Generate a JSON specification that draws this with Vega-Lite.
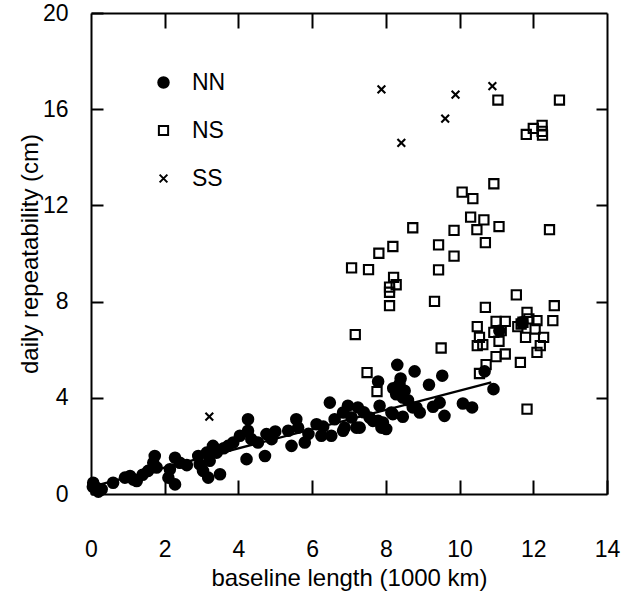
{
  "$schema": "https://vega.github.io/schema/vega-lite/v6.json",
  "width": 516,
  "height": 481,
  "autosize": {"type": "none"},
  "padding": {"left": 91, "top": 13, "right": 29, "bottom": 102},
  "background": "white",
  "config": {
    "view": {"stroke": null},
    "font": "Liberation Sans",
    "axis": {
      "grid": false,
      "domainColor": "black",
      "domainWidth": 2,
      "tickColor": "black",
      "tickWidth": 2,
      "tickOpacity": 1,
      "labelFont": "Liberation Sans",
      "labelFontSize": 23,
      "labelColor": "black",
      "titleFont": "Liberation Sans",
      "titleFontSize": 24,
      "titleFontWeight": "normal",
      "titleColor": "black"
    },
    "legend": {
      "labelFont": "Liberation Sans",
      "labelFontSize": 23,
      "labelColor": "black"
    }
  },
  "datasets": {
    "pts": [
      {"x": 0.05, "y": 0.3, "type": "NN"}, {"x": 0.15, "y": 0.26, "type": "NN"}, {"x": 0.29, "y": 0.2, "type": "NN"}, {"x": 0.06, "y": 0.47, "type": "NN"}, {"x": 0.2, "y": 0.1, "type": "NN"},
      {"x": 0.6, "y": 0.47, "type": "NN"}, {"x": 0.92, "y": 0.68, "type": "NN"}, {"x": 1.06, "y": 0.75, "type": "NN"}, {"x": 1.24, "y": 0.54, "type": "NN"}, {"x": 1.15, "y": 0.6, "type": "NN"},
      {"x": 1.4, "y": 0.8, "type": "NN"}, {"x": 1.55, "y": 0.96, "type": "NN"}, {"x": 1.73, "y": 1.58, "type": "NN"}, {"x": 1.69, "y": 1.3, "type": "NN"}, {"x": 1.78, "y": 1.1, "type": "NN"},
      {"x": 2.1, "y": 0.68, "type": "NN"}, {"x": 2.28, "y": 0.4, "type": "NN"}, {"x": 2.14, "y": 1.03, "type": "NN"}, {"x": 2.28, "y": 1.51, "type": "NN"}, {"x": 2.41, "y": 1.3, "type": "NN"},
      {"x": 2.6, "y": 1.2, "type": "NN"}, {"x": 2.91, "y": 1.58, "type": "NN"}, {"x": 2.95, "y": 1.24, "type": "NN"}, {"x": 3.04, "y": 0.96, "type": "NN"}, {"x": 3.18, "y": 0.68, "type": "NN"},
      {"x": 3.5, "y": 0.82, "type": "NN"}, {"x": 3.31, "y": 2.0, "type": "NN"}, {"x": 3.41, "y": 1.72, "type": "NN"}, {"x": 3.22, "y": 1.38, "type": "NN"}, {"x": 3.14, "y": 1.72, "type": "NN"},
      {"x": 3.6, "y": 1.9, "type": "NN"}, {"x": 3.72, "y": 2.0, "type": "NN"}, {"x": 3.86, "y": 2.14, "type": "NN"}, {"x": 4.04, "y": 2.42, "type": "NN"}, {"x": 4.26, "y": 3.11, "type": "NN"},
      {"x": 4.26, "y": 2.63, "type": "NN"}, {"x": 4.35, "y": 2.28, "type": "NN"}, {"x": 4.22, "y": 1.45, "type": "NN"}, {"x": 4.72, "y": 1.58, "type": "NN"}, {"x": 4.76, "y": 2.49, "type": "NN"},
      {"x": 4.9, "y": 2.28, "type": "NN"}, {"x": 4.53, "y": 2.14, "type": "NN"}, {"x": 5.0, "y": 2.6, "type": "NN"}, {"x": 5.35, "y": 2.63, "type": "NN"}, {"x": 5.44, "y": 2.0, "type": "NN"},
      {"x": 5.57, "y": 3.11, "type": "NN"}, {"x": 5.62, "y": 2.76, "type": "NN"}, {"x": 5.8, "y": 2.14, "type": "NN"}, {"x": 5.9, "y": 2.5, "type": "NN"}, {"x": 6.12, "y": 2.9, "type": "NN"},
      {"x": 6.25, "y": 2.42, "type": "NN"}, {"x": 6.3, "y": 2.8, "type": "NN"}, {"x": 6.52, "y": 2.42, "type": "NN"}, {"x": 6.48, "y": 3.8, "type": "NN"}, {"x": 6.61, "y": 3.11, "type": "NN"},
      {"x": 6.84, "y": 3.39, "type": "NN"}, {"x": 6.88, "y": 2.76, "type": "NN"}, {"x": 6.97, "y": 3.67, "type": "NN"}, {"x": 7.07, "y": 3.18, "type": "NN"}, {"x": 7.24, "y": 3.6, "type": "NN"},
      {"x": 7.29, "y": 2.76, "type": "NN"}, {"x": 7.4, "y": 3.4, "type": "NN"}, {"x": 7.56, "y": 3.18, "type": "NN"}, {"x": 7.79, "y": 3.04, "type": "NN"}, {"x": 7.83, "y": 3.67, "type": "NN"},
      {"x": 6.84, "y": 2.63, "type": "NN"}, {"x": 7.2, "y": 2.76, "type": "NN"}, {"x": 7.65, "y": 3.04, "type": "NN"}, {"x": 8.01, "y": 2.7, "type": "NN"}, {"x": 7.88, "y": 2.76, "type": "NN"},
      {"x": 7.92, "y": 2.97, "type": "NN"}, {"x": 8.15, "y": 3.39, "type": "NN"}, {"x": 8.46, "y": 3.21, "type": "NN"}, {"x": 8.19, "y": 3.32, "type": "NN"}, {"x": 8.73, "y": 3.6, "type": "NN"},
      {"x": 8.83, "y": 3.6, "type": "NN"}, {"x": 8.92, "y": 3.39, "type": "NN"}, {"x": 8.6, "y": 3.9, "type": "NN"}, {"x": 8.46, "y": 4.01, "type": "NN"}, {"x": 8.28, "y": 4.15, "type": "NN"},
      {"x": 8.33, "y": 4.29, "type": "NN"}, {"x": 8.51, "y": 4.29, "type": "NN"}, {"x": 8.37, "y": 4.43, "type": "NN"}, {"x": 8.37, "y": 4.57, "type": "NN"}, {"x": 8.2, "y": 4.4, "type": "NN"},
      {"x": 8.4, "y": 4.8, "type": "NN"}, {"x": 7.79, "y": 4.68, "type": "NN"}, {"x": 8.31, "y": 5.37, "type": "NN"}, {"x": 8.78, "y": 5.1, "type": "NN"}, {"x": 9.53, "y": 4.92, "type": "NN"},
      {"x": 9.17, "y": 4.54, "type": "NN"}, {"x": 9.28, "y": 3.63, "type": "NN"}, {"x": 9.46, "y": 3.8, "type": "NN"}, {"x": 9.59, "y": 3.25, "type": "NN"}, {"x": 10.09, "y": 3.76, "type": "NN"},
      {"x": 10.34, "y": 3.6, "type": "NN"}, {"x": 10.92, "y": 4.36, "type": "NN"}, {"x": 10.68, "y": 5.1, "type": "NN"}, {"x": 11.08, "y": 6.79, "type": "NN"}, {"x": 11.7, "y": 7.14, "type": "NN"},
      {"x": 11.04, "y": 16.38, "type": "NS"}, {"x": 12.71, "y": 16.38, "type": "NS"}, {"x": 11.81, "y": 14.95, "type": "NS"}, {"x": 12.0, "y": 15.2, "type": "NS"}, {"x": 12.24, "y": 15.33, "type": "NS"},
      {"x": 12.24, "y": 15.08, "type": "NS"}, {"x": 12.25, "y": 14.92, "type": "NS"}, {"x": 10.93, "y": 12.9, "type": "NS"}, {"x": 10.07, "y": 12.55, "type": "NS"}, {"x": 10.36, "y": 12.28, "type": "NS"},
      {"x": 8.73, "y": 11.07, "type": "NS"}, {"x": 9.85, "y": 10.96, "type": "NS"}, {"x": 10.3, "y": 11.51, "type": "NS"}, {"x": 10.66, "y": 11.4, "type": "NS"}, {"x": 10.47, "y": 10.99, "type": "NS"},
      {"x": 11.07, "y": 11.12, "type": "NS"}, {"x": 12.44, "y": 10.99, "type": "NS"}, {"x": 10.7, "y": 10.45, "type": "NS"}, {"x": 9.43, "y": 10.36, "type": "NS"}, {"x": 8.19, "y": 10.29, "type": "NS"},
      {"x": 7.81, "y": 10.01, "type": "NS"}, {"x": 9.85, "y": 9.89, "type": "NS"}, {"x": 7.07, "y": 9.4, "type": "NS"}, {"x": 7.53, "y": 9.33, "type": "NS"}, {"x": 9.43, "y": 9.32, "type": "NS"},
      {"x": 8.21, "y": 9.01, "type": "NS"}, {"x": 8.28, "y": 8.7, "type": "NS"}, {"x": 8.1, "y": 8.6, "type": "NS"}, {"x": 8.1, "y": 8.39, "type": "NS"}, {"x": 8.1, "y": 7.83, "type": "NS"},
      {"x": 9.32, "y": 8.01, "type": "NS"}, {"x": 11.54, "y": 8.28, "type": "NS"}, {"x": 12.57, "y": 7.83, "type": "NS"}, {"x": 10.7, "y": 7.76, "type": "NS"}, {"x": 7.17, "y": 6.63, "type": "NS"},
      {"x": 9.5, "y": 6.07, "type": "NS"}, {"x": 7.49, "y": 5.05, "type": "NS"}, {"x": 7.76, "y": 4.26, "type": "NS"}, {"x": 11.83, "y": 3.53, "type": "NS"}, {"x": 11.65, "y": 5.47, "type": "NS"},
      {"x": 12.53, "y": 7.21, "type": "NS"}, {"x": 10.48, "y": 6.96, "type": "NS"}, {"x": 10.54, "y": 6.51, "type": "NS"}, {"x": 10.48, "y": 6.17, "type": "NS"}, {"x": 10.63, "y": 6.21, "type": "NS"},
      {"x": 10.99, "y": 7.18, "type": "NS"}, {"x": 11.24, "y": 7.18, "type": "NS"}, {"x": 10.93, "y": 6.72, "type": "NS"}, {"x": 11.13, "y": 6.79, "type": "NS"}, {"x": 11.07, "y": 6.35, "type": "NS"},
      {"x": 10.72, "y": 5.38, "type": "NS"}, {"x": 10.99, "y": 5.71, "type": "NS"}, {"x": 11.24, "y": 5.82, "type": "NS"}, {"x": 10.54, "y": 5.01, "type": "NS"}, {"x": 11.58, "y": 6.96, "type": "NS"},
      {"x": 11.72, "y": 7.14, "type": "NS"}, {"x": 11.83, "y": 7.55, "type": "NS"}, {"x": 11.88, "y": 7.28, "type": "NS"}, {"x": 12.1, "y": 7.21, "type": "NS"}, {"x": 11.79, "y": 6.51, "type": "NS"},
      {"x": 12.05, "y": 6.86, "type": "NS"}, {"x": 12.28, "y": 6.51, "type": "NS"}, {"x": 12.19, "y": 6.17, "type": "NS"}, {"x": 12.1, "y": 5.89, "type": "NS"}, {"x": 11.67, "y": 7.07, "type": "NS"},
      {"x": 7.88, "y": 16.82, "type": "SS"}, {"x": 8.42, "y": 14.6, "type": "SS"}, {"x": 9.61, "y": 15.61, "type": "SS"}, {"x": 9.89, "y": 16.61, "type": "SS"}, {"x": 10.89, "y": 16.96, "type": "SS"},
      {"x": 3.21, "y": 3.22, "type": "SS"}
    ],
    "fit": [
      {"x": 0.1, "y": 0.34},
      {"x": 10.86, "y": 4.64}
    ]
  },
  "layer": [
    {
      "data": {"name": "fit"},
      "mark": {"type": "line", "color": "black", "strokeWidth": 2.2},
      "encoding": {
        "x": {
          "field": "x", "type": "quantitative",
          "scale": {"domain": [0, 14], "nice": false, "zero": false},
          "axis": {"orient": "top", "labels": false, "title": null, "values": [2, 4, 6, 8, 10, 12], "tickSize": -15, "tickWidth": 2, "tickColor": "black"}
        },
        "y": {
          "field": "y", "type": "quantitative",
          "scale": {"domain": [0, 20], "nice": false, "zero": false},
          "axis": {"orient": "right", "labels": false, "title": null, "values": [4, 8, 12, 16], "tickSize": -11, "tickWidth": 2, "tickColor": "black"}
        }
      }
    },
    {
      "data": {"name": "pts"},
      "mark": {"type": "point", "strokeWidth": 2.1, "opacity": 1},
      "encoding": {
        "x": {
          "field": "x", "type": "quantitative",
          "scale": {"domain": [0, 14], "nice": false, "zero": false},
          "axis": {"orient": "bottom", "title": "baseline length (1000 km)", "values": [0, 2, 4, 6, 8, 10, 12, 14], "tickSize": -14, "tickWidth": 2, "tickColor": "black", "labelPadding": 58, "titleY": 84, "titleBaseline": "middle", "labelFlush": false}
        },
        "y": {
          "field": "y", "type": "quantitative",
          "scale": {"domain": [0, 20], "nice": false, "zero": false},
          "axis": {"orient": "left", "title": "daily repeatability (cm)", "values": [0, 4, 8, 12, 16, 20], "tickSize": -12, "tickWidth": 2, "tickColor": "black", "labelPadding": 35, "titleX": -61, "titleBaseline": "middle", "labelFlush": false}
        },
        "shape": {
          "field": "type", "type": "nominal",
          "scale": {"domain": ["NN", "NS", "SS"], "range": ["circle", "square", "M-1,-1L1,1M1,-1L-1,1"]},
          "legend": {
            "title": null, "orient": "none", "legendX": 61, "legendY": 58,
            "padding": 0, "symbolStrokeWidth": 2,
            "labelOffset": 17, "rowPadding": 24, "labelFontSize": 23
          }
        },
        "fill": {
          "field": "type", "type": "nominal",
          "scale": {"domain": ["NN", "NS", "SS"], "range": ["black", "transparent", "transparent"]},
          "legend": {
            "title": null, "orient": "none", "legendX": 61, "legendY": 58,
            "padding": 0, "symbolStrokeWidth": 2,
            "labelOffset": 17, "rowPadding": 24, "labelFontSize": 23
          }
        },
        "stroke": {
          "field": "type", "type": "nominal",
          "scale": {"domain": ["NN", "NS", "SS"], "range": ["black", "black", "black"]},
          "legend": {
            "title": null, "orient": "none", "legendX": 61, "legendY": 58,
            "padding": 0, "symbolStrokeWidth": 2,
            "labelOffset": 17, "rowPadding": 24, "labelFontSize": 23
          }
        },
        "size": {
          "field": "type", "type": "nominal",
          "scale": {"domain": ["NN", "NS", "SS"], "range": [110, 60, 85]},
          "legend": {
            "title": null, "orient": "none", "legendX": 61, "legendY": 58,
            "padding": 0, "symbolStrokeWidth": 2,
            "labelOffset": 17, "rowPadding": 24, "labelFontSize": 23
          }
        }
      }
    }
  ],
  "resolve": {"axis": {"x": "independent", "y": "independent"}}
}
